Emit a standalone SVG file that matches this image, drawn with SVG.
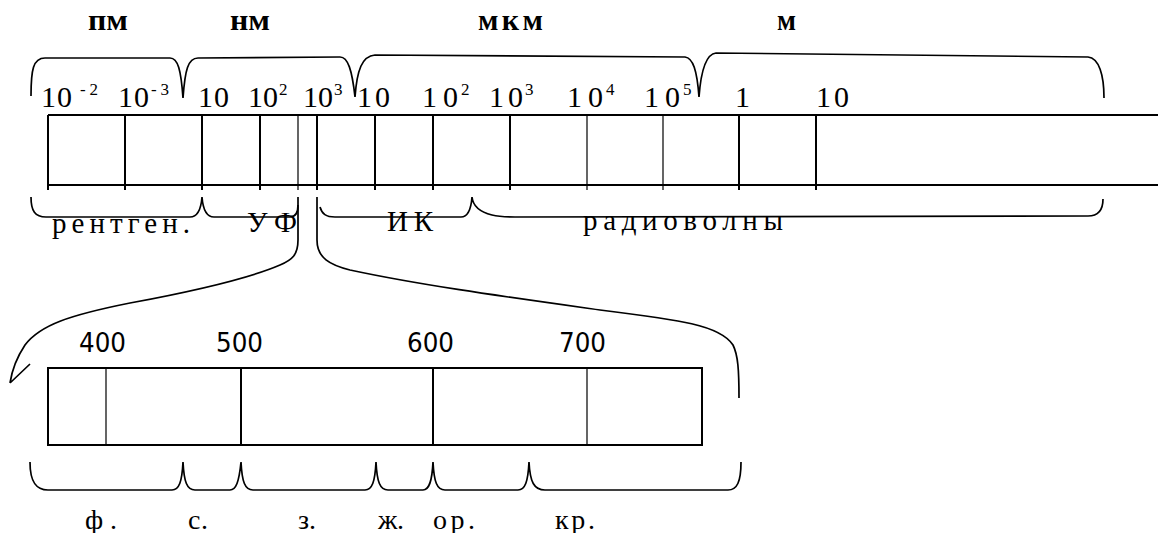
<svg xmlns="http://www.w3.org/2000/svg" width="1158" height="533" viewBox="0 0 1158 533">
<style>
.ln{fill:none;stroke:#000;stroke-width:2}
.th{fill:none;stroke:#000;stroke-width:1.2}
.br{fill:none;stroke:#000;stroke-width:1.7;stroke-linejoin:miter}
text{fill:#000}
.num{font-size:30px}
.sup{font-size:17px}
.lab{font-size:30px;font-weight:bold}
.row{font-size:29px}
.bot{font-size:28px}
</style>
<rect width="1158" height="533" fill="#fff"/>

<g id="unit-labels" font-family="'Liberation Serif', 'DejaVu Serif', serif" class="lab">
<text x="88" y="30" textLength="40" lengthAdjust="spacingAndGlyphs">пм</text>
<text x="230" y="30" textLength="40" lengthAdjust="spacingAndGlyphs">нм</text>
<text x="478" y="30" textLength="65" lengthAdjust="spacing">мкм</text>
<text x="777" y="30" textLength="19" lengthAdjust="spacingAndGlyphs">м</text>
</g>

<g id="unit-braces">
<path class="br" d="M31,96 C31,70 33,58 45,58 L170,58 C178,58 181,70 183,98 C185,70 188,58 198,58 L340,57 C348,57 352,70 355,97 C357,70 362,56 375,55 L685,57 C693,58 697,70 699,97 C701,70 706,54 716,53 L1088,57 C1099,58 1104,75 1104,98"/>
</g>

<g id="scale-numbers" font-family="'Liberation Serif', 'DejaVu Serif', serif">
<text class="num" x="41" y="107" textLength="31" lengthAdjust="spacing">10</text><text class="sup" x="80" y="95" textLength="18" lengthAdjust="spacing">-2</text>
<text class="num" x="118" y="107" textLength="31" lengthAdjust="spacing">10</text><text class="sup" x="151" y="95" textLength="18" lengthAdjust="spacing">-3</text>
<text class="num" x="198" y="107" textLength="31" lengthAdjust="spacing">10</text>
<text class="num" x="248" y="107" textLength="30" lengthAdjust="spacing">10</text><text class="sup" x="279" y="95">2</text>
<text class="num" x="303" y="107" textLength="30" lengthAdjust="spacing">10</text><text class="sup" x="334" y="95">3</text>
<text class="num" x="357" y="107" textLength="33" lengthAdjust="spacing">10</text>
<text class="num" x="422" y="107" textLength="36" lengthAdjust="spacing">10</text><text class="sup" x="461" y="95">2</text>
<text class="num" x="489" y="107" textLength="34" lengthAdjust="spacing">10</text><text class="sup" x="525" y="95">3</text>
<text class="num" x="567" y="107" textLength="36" lengthAdjust="spacing">10</text><text class="sup" x="606" y="95">4</text>
<text class="num" x="644" y="107" textLength="36" lengthAdjust="spacing">10</text><text class="sup" x="683" y="95">5</text>
<text class="num" x="735" y="107">1</text>
<text class="num" x="816" y="107" textLength="33" lengthAdjust="spacing">10</text>
</g>

<g id="scale-bar">
<path class="ln" d="M48,115 H1158 M48,185 H1158 M48,115 V190"/>
<path class="ln" d="M125,115 V190 M202,115 V190 M260,115 V190 M317,115 V190 M375,115 V190 M433,115 V190 M510,115 V190 M739,115 V190 M816,115 V190"/>
<path class="th" d="M298,115 V190 M587,115 V190 M663,115 V190"/>
</g>

<g id="band-braces">
<path class="br" d="M31,197 C31,211 35,217 46,217 L190,217 C197,217 201,210 202,197 C203,210 207,217 214,217 L290,217 C296,217 298,212 298,205"/>
<path class="br" d="M320,207 C322,214 326,217 335,217 L461,217 C467,217 471,210 472,197 C473,207 480,212 492,215 C500,217 505,217 515,217 L1088,216 C1098,216 1103,210 1103,199"/>
</g>

<g id="band-labels" font-family="'Liberation Serif', 'DejaVu Serif', serif" class="row">
<text x="52" y="233" textLength="138" lengthAdjust="spacing">рентген.</text>
<text x="247" y="232" textLength="50" lengthAdjust="spacing">УФ</text>
<text x="387" y="231" textLength="46" lengthAdjust="spacing">ИК</text>
<text x="583" y="230" textLength="200" lengthAdjust="spacing">радиоволны</text>
</g>

<g id="connectors">
<path class="br" d="M298,197 L298,240 C298,255 292,260 280,265 C250,278 200,290 130,303 C70,315 40,325 25,345 C17,357 12,370 10,383 M10,383 L30,364"/>
<path class="br" d="M317,197 L317,240 C317,258 330,265 350,270 C420,285 500,296 600,310 C680,320 720,325 733,345 C738,355 739,370 739,398"/>
</g>

<g id="visible-numbers" font-family="'DejaVu Sans', 'Liberation Sans', sans-serif" font-size="27">
<text x="79" y="352" textLength="47" lengthAdjust="spacingAndGlyphs">400</text>
<text x="216" y="352" textLength="47" lengthAdjust="spacingAndGlyphs">500</text>
<text x="407" y="352" textLength="47" lengthAdjust="spacingAndGlyphs">600</text>
<text x="559" y="352" textLength="47" lengthAdjust="spacingAndGlyphs">700</text>
</g>

<g id="visible-bar">
<rect class="ln" x="48" y="368" width="654" height="77"/>
<path class="ln" d="M241,368 V445 M433,368 V445"/>
<path class="th" d="M106,368 V445 M587,368 V445"/>
</g>

<g id="colour-braces">
<path class="br" d="M30,462 C30,482 36,490 48,490 L172,490 C179,490 182,482 183,462 C184,482 187,490 195,490 L230,490 C236,490 239,482 241,462 C242,482 245,490 253,490 L365,490 C372,490 375,482 376,462 C377,482 380,490 388,490 L423,490 C429,490 432,482 433,462 C434,482 437,490 445,490 L518,490 C525,490 528,482 529,462 C530,482 534,490 545,490 L728,490 C737,490 741,482 741,462"/>
</g>

<g id="colour-labels" font-family="'Liberation Serif', 'DejaVu Serif', serif" class="bot">
<text x="85" y="529" textLength="32" lengthAdjust="spacing">ф.</text>
<text x="188" y="529" textLength="20" lengthAdjust="spacing">с.</text>
<text x="298" y="529" textLength="18" lengthAdjust="spacing">з.</text>
<text x="378" y="529" textLength="26" lengthAdjust="spacing">ж.</text>
<text x="433" y="529" textLength="42" lengthAdjust="spacing">ор.</text>
<text x="555" y="529" textLength="40" lengthAdjust="spacing">кр.</text>
</g>
</svg>
